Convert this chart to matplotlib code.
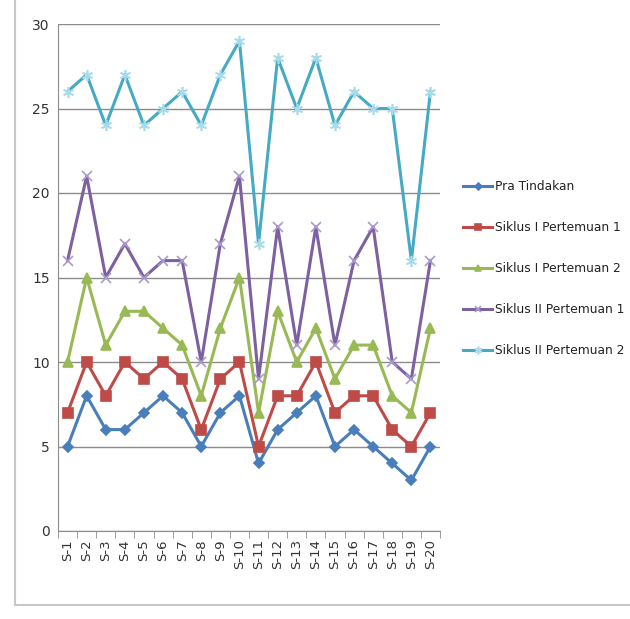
import matplotlib
matplotlib.use("Agg")
import matplotlib.pyplot as plt
from matplotlib.lines import Line2D

plt.rcParams['font.family'] = ['Liberation Sans Narrow', 'DejaVu Sans']

categories = [f"S-{i}" for i in range(1, 21)]
pra_tindakan = [5, 8, 6, 6, 7, 8, 7, 5, 7, 8, 4, 6, 7, 8, 5, 6, 5, 4, 3, 5]
siklus1_p1 = [7, 10, 8, 10, 9, 10, 9, 6, 9, 10, 5, 8, 8, 10, 7, 8, 8, 6, 5, 7]
siklus1_p2 = [10, 15, 11, 13, 13, 12, 11, 8, 12, 15, 7, 13, 10, 12, 9, 11, 11, 8, 7, 12]
siklus2_p1 = [16, 21, 15, 17, 15, 16, 16, 10, 17, 21, 9, 18, 11, 18, 11, 16, 18, 10, 9, 16]
siklus2_p2 = [26, 27, 24, 27, 24, 25, 26, 24, 27, 29, 17, 28, 25, 28, 24, 26, 25, 25, 16, 26]

series_names = ["Pra Tindakan", "Siklus I Pertemuan 1", "Siklus I Pertemuan 2",
                "Siklus II Pertemuan 1", "Siklus II Pertemuan 2"]

fig = plt.figure(figsize=(6.3, 6.19), dpi=100)
fig.patch.set_facecolor("white")

# chart frame (left and bottom edges)
fig.add_artist(Line2D([15 / 630, 15 / 630], [1 - 605 / 619, 1.0],
                      transform=fig.transFigure, color="#c8c8c8", linewidth=1.5))
fig.add_artist(Line2D([15 / 630, 1.0], [1 - 605 / 619, 1 - 605 / 619],
                      transform=fig.transFigure, color="#c8c8c8", linewidth=1.5))

ax = fig.add_axes([58 / 630, 1 - 531 / 619, 382 / 630, 507 / 619])
x = list(range(len(categories)))

styles = [
    (pra_tindakan, "#4A7EBB", "D", 5, "#4A7EBB"),
    (siklus1_p1, "#BE4B48", "s", 7, "#BE4B48"),
    (siklus1_p2, "#98B954", "^", 7, "#98B954"),
    (siklus2_p1, "#7D60A0", "x", 7, "#A99BD0"),
    (siklus2_p2, "#46AAC5", (6, 2, 0), 8, "#A8DCEB"),
]
handles = []
for (vals, col, mk, ms, mcol), name in zip(styles, series_names):
    ln, = ax.plot(x, vals, color=col, linewidth=2.2, marker=mk, markersize=ms,
                  markerfacecolor=mcol, markeredgecolor=mcol, markeredgewidth=1.2,
                  label=name, zorder=3)
    handles.append(ln)

ax.set_xlim(-0.5, len(categories) - 0.5)
ax.set_ylim(0, 30)
ax.set_yticks(range(0, 31, 5))
ax.yaxis.grid(True, color="#8c8c8c", linewidth=1.0)
ax.set_axisbelow(True)
for s in ["top", "right"]:
    ax.spines[s].set_visible(False)
ax.spines["left"].set_color("#8c8c8c")
ax.spines["bottom"].set_color("#8c8c8c")
ax.tick_params(axis="y", length=0, labelsize=10, colors="#333333", pad=6)
ax.set_xticks(x)
ax.set_xticklabels(categories, rotation=90, fontsize=9.5, color="#333333")
ax.set_xticks([i - 0.5 for i in range(len(categories) + 1)], minor=True)
ax.tick_params(axis="x", which="major", length=0, pad=6)
ax.tick_params(axis="x", which="minor", length=5, color="#8c8c8c", direction="out")

leg = fig.legend(handles=handles, loc="upper left",
                 bbox_to_anchor=(458 / 630, 1 - 175 / 619),
                 frameon=False, fontsize=8.8, labelspacing=2.3,
                 handlelength=2.4, handletextpad=0.25, markerscale=0.7,
                 borderaxespad=0)
for t in leg.get_texts():
    t.set_color("#222222")

fig.savefig("out.png", dpi=100)
